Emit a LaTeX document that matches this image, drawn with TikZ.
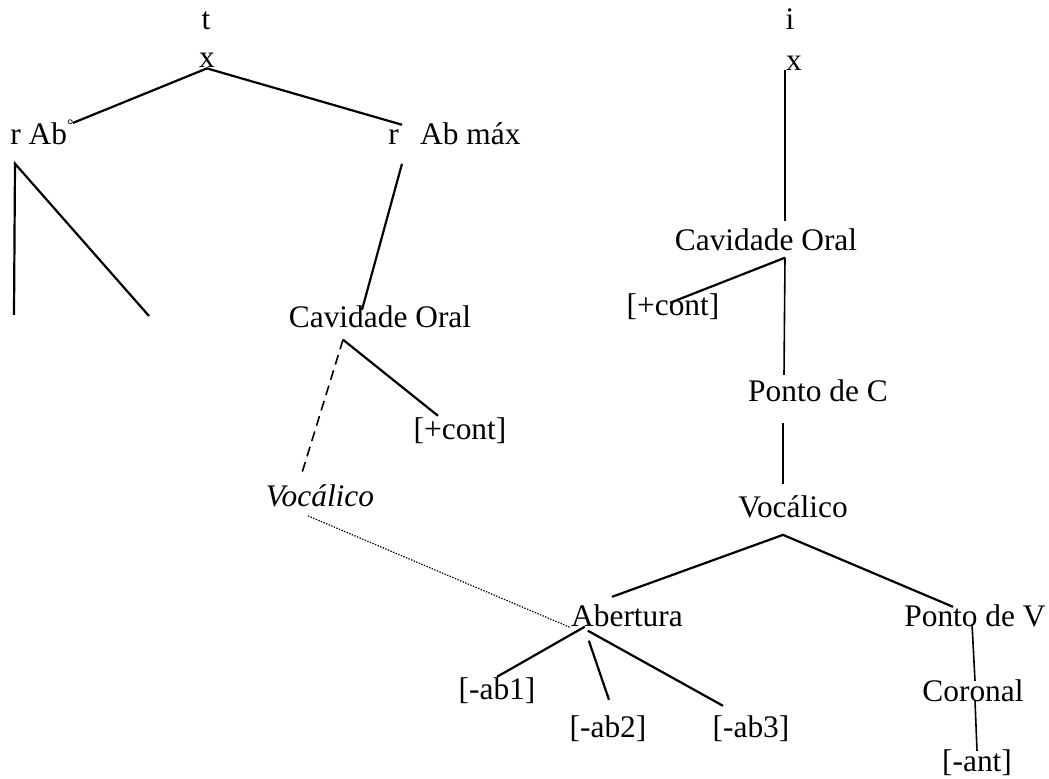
\documentclass[tikz,border=0pt]{standalone}
\usepackage{fontspec}
\setmainfont{Liberation Serif}
\usetikzlibrary{calc}

\begin{document}
\begin{tikzpicture}[x=0.5pt,y=-0.5pt,
    every node/.style={inner sep=0pt,anchor=base,font=\fontsize{15.7}{19}\selectfont},
    branch/.style={line width=1.1pt},
    stem/.style={line width=0.8pt},
    assoc/.style={line width=0.8pt,dash pattern=on 5pt off 3pt},
    link/.style={line width=0.6pt,dash pattern=on 0.7pt off 0.7pt}]
    \useasboundingbox (0,0) rectangle (1049,779);
    % left tree: t
    \node (t) at (206,30) {t};
    \node (xt) at (207,68) {x};
    \node[anchor=base west] (rab) at (10,145) {r Ab\raisebox{7pt}{\fontsize{8}{8}\selectfont °}};
    \node[anchor=base west] (rmax) at (388,145) {r\hspace{0.68em}Ab máx};
    \coordinate (free1) at (14,315);
    \coordinate (free2) at (149,316);
    \node (coL) at (380,328) {Cavidade Oral};
    \node (contL) at (460,440) {[+cont]};
    \node (vocL) at (320,507) {\itshape Vocálico};
    % right tree: i
    \node (i) at (790,30) {i};
    \node (xi) at (794,71) {x};
    \node (coR) at (766,251) {Cavidade Oral};
    \node (contR) at (673,316) {[+cont]};
    \node (pc) at (818,402) {Ponto de C};
    \node (vocR) at (793,518) {Vocálico};
    \node (ab) at (627,627) {Abertura};
    \node (ab1) at (497,699) {[-ab1]};
    \node (ab2) at (608,738) {[-ab2]};
    \node (ab3) at (751,738) {[-ab3]};
    \node (pv) at (975,627) {Ponto de V};
    \node (cor) at (973,702) {Coronal};
    \node (ant) at (977,771) {[-ant]};

    \draw[branch] ($(rab.north east)+(-1,3)$) -- (xt.south) -- ($(rmax.north west)+(14,2)$);
    \draw[branch] (free1) -- ($(rab.south west)+(5,18)$) -- (free2);
    \draw[branch] ($(rmax.south west)+(14,18)$) -- ($(coL.north)+(-18,4)$);
    \draw[branch] ($(coL.south)+(-37,11)$) -- ($(contL.north)+(-22,-2)$);
    \draw[assoc] ($(coL.south)+(-37,11)$) -- ($(vocL.north)+(-18,-12)$);
    \draw[link] ($(vocL.south)+(-12,8)$) -- (ab.south west);

    \draw[stem] ($(xi.south)+(-9,-1)$) -- ($(coR.north)+(19,-8)$);
    \draw[branch] ($(coR.south)+(19,6)$) -- ($(contR.north)+(-3,9)$);
    \draw[stem] ($(coR.south)+(19,6)$) -- ($(pc.north)+(-34,-5)$);
    \draw[stem] ($(pc.south)+(-35,20)$) -- ($(vocR.north)+(-10,-12)$);
    \draw[branch] ($(ab.north)+(-15,-8)$) -- ($(vocR.south)+(-10,16)$) -- ($(pv.north)+(-22,2)$);
    \draw[branch] ($(ab.south west)+(14,-1)$) -- (ab1.north);
    \draw[branch] ($(ab.south west)+(18,13)$) -- ($(ab2.north)+(1,-16)$);
    \draw[branch] ($(ab.south west)+(17,3)$) -- ($(ab3.north)+(-28,-10)$);
    \draw[stem] ($(pv.south)+(-3,-4)$) -- ($(cor.north)+(2,1)$);
    \draw[stem] ($(cor.south)+(2,-2)$) -- ($(ant.north)+(0,2)$);
\end{tikzpicture}
\end{document}
